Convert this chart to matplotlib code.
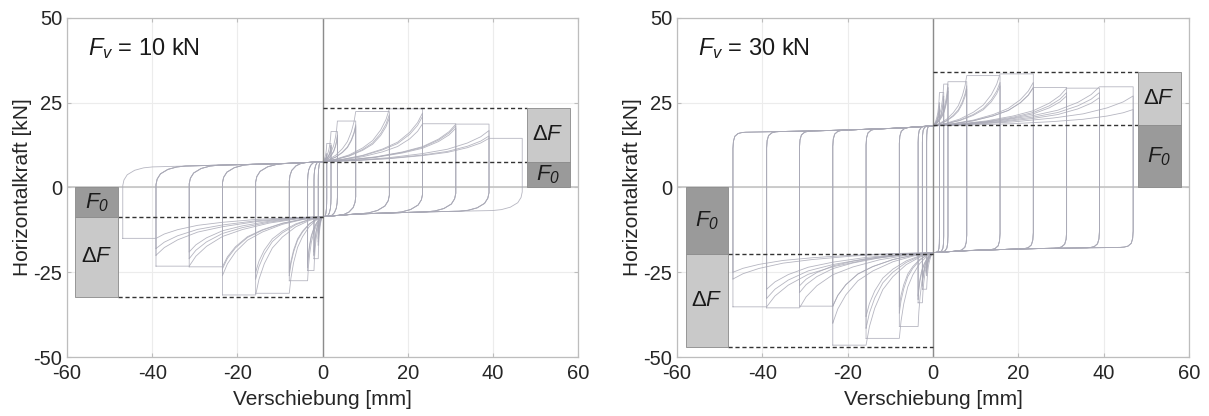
import numpy as np
import matplotlib
matplotlib.use("Agg")
import matplotlib.pyplot as plt
from matplotlib.patches import Rectangle

plt.rcParams['font.family'] = ['Liberation Sans', 'DejaVu Sans']
plt.rcParams['mathtext.fontset'] = 'custom'
plt.rcParams['mathtext.rm'] = 'Liberation Sans'
plt.rcParams['mathtext.it'] = 'Liberation Sans:italic'
plt.rcParams['mathtext.sf'] = 'Liberation Sans:italic'
plt.rcParams['mathtext.default'] = 'it'
plt.rcParams['axes.unicode_minus'] = False

# ---- data ----
# cycle amplitudes [mm]
amps_10 = [1.0, 2.0, 3.5, 7.8, 15.7, 23.5, 31.3, 39.1, 46.9]
amps_30 = [1.5, 2.5, 3.5, 7.9, 15.7, 23.5, 31.3, 39.0, 46.9]

# peak forces per cycle [kN] (first, second, third cycle)
peak_pos_10 = [[10, 9.5, 9], [13, 12.5, 12], [16.5, 15.5, 15], [19.6, 18.5, 18],
               [22.4, 21.5, 20.5], [23.2, 22, 21], [18.8, 18.2, 17.5],
               [18.7, 16.8, 15.2], [14.5]]
peak_neg_10 = [[-17, -16, -15], [-21, -20, -19], [-24.5, -23.5, -22.5], [-27.5, -26, -25],
               [-31.2, -27, -25], [-31.7, -26, -24], [-23.4, -21, -19],
               [-23.2, -20, -18], [-15]]
peak_pos_30 = [[25, 24, 23], [28, 27, 26], [30.5, 29.5, 28.5], [31.2, 30, 29],
               [33, 31, 30], [33.5, 31, 29.5], [29.5, 28, 27],
               [29.3, 28, 26.5], [29.7, 27, 23]]
peak_neg_30 = [[-26, -25, -24], [-30, -29, -28], [-34, -33, -32], [-41, -37, -35],
               [-44.5, -41.5, -38], [-46.5, -40, -35], [-35, -31, -29],
               [-35.5, -32.7, -30], [-35.2, -27, -25]]

# sliding plateau levels (upper branch for x<0, lower branch for x>0)
up_x = [-48, -24, -8, 0]
up_10 = [5.8, 6.6, 7.1, 7.6]
up_30 = [16.2, 16.8, 17.5, 18.2]
lo_x = [0, 8, 24, 48]
lo_10 = [-8.6, -7.8, -7.2, -6.6]
lo_30 = [-19.2, -18.6, -18.0, -17.6]

# F0 / Fmax levels marked by the boxes
f0_pos = [7.5, 18.3]
fmax_pos = [23.5, 34.0]
f0_neg = [-8.7, -19.6]
fmin_neg = [-32.2, -47.1]
panel_labels = ['10 kN', '30 kN']

# normalised branch shapes
HARD_T = [0, 0.2, 0.4, 0.6, 0.75, 0.87, 0.95, 1.0]
HARD_R = [0, 0.05, 0.13, 0.26, 0.4, 0.6, 0.8, 1.0]
CORNER_T = [0, 0.04, 0.15, 0.4, 0.7, 1.0]
CORNER_R_SOFT = [0, 0.3, 0.58, 0.82, 0.95, 1.0]
CORNER_R_SHARP = [0, 0.45, 0.75, 0.92, 0.98, 1.0]


def make_loop(A, P, N, xp_flat, xn_flat, up_y, lo_y, drop, cw, corner_r):
    w = min(cw, 0.5 * A)
    xs, ys = [-A], [N]
    # reverse at -A, round corner onto upper plateau
    y_pl = np.interp(-A + w, up_x, up_y)
    y0 = y_pl - drop
    for t, r in zip(CORNER_T, corner_r):
        xs.append(-A + t * w)
        ys.append(y0 + r * (y_pl - y0))
    for xx in np.linspace(-A + w, 0, 6)[1:]:
        xs.append(xx)
        ys.append(np.interp(xx, up_x, up_y))
    F0 = ys[-1]
    X = xp_flat if xp_flat else A
    for t, r in zip(HARD_T[1:], HARD_R[1:]):
        xs.append(t * X)
        ys.append(F0 + r * (P - F0))
    if xp_flat:
        xs.append(A)
        ys.append(P)
    # reverse at +A, round corner onto lower plateau
    y_pl = np.interp(A - w, lo_x, lo_y)
    y0 = y_pl + drop
    for t, r in zip(CORNER_T, corner_r):
        xs.append(A - t * w)
        ys.append(y0 + r * (y_pl - y0))
    for xx in np.linspace(A - w, 0, 6)[1:]:
        xs.append(xx)
        ys.append(np.interp(xx, lo_x, lo_y))
    F0 = ys[-1]
    X = xn_flat if xn_flat else A
    for t, r in zip(HARD_T[1:], HARD_R[1:]):
        xs.append(-t * X)
        ys.append(F0 + r * (N - F0))
    if xn_flat:
        xs.append(-A)
        ys.append(N)
    return xs, ys


fig = plt.figure(figsize=(12.09, 4.16), dpi=100)
ax1 = fig.add_axes([0.0554, 0.1418, 0.4227, 0.815])
ax2 = fig.add_axes([0.560, 0.1418, 0.4235, 0.815])

panels = [
    (ax1, amps_10, peak_pos_10, peak_neg_10, up_10, lo_10, 5.5, 7.0, CORNER_R_SOFT),
    (ax2, amps_30, peak_pos_30, peak_neg_30, up_30, lo_30, 4.8, 3.0, CORNER_R_SHARP),
]

for i, (ax, amps, pp, pn, upy, loy, drop, cw, cr) in enumerate(panels):
    ax.set_xlim(-60, 60)
    ax.set_ylim(-50, 50)
    ax.set_xticks([-60, -40, -20, 0, 20, 40, 60])
    ax.set_yticks([-50, -25, 0, 25, 50])
    ax.grid(True, color='#ececec', lw=0.8)
    ax.set_axisbelow(True)
    ax.axhline(0, color='#c4c4c4', lw=1.2, zorder=1.6)
    ax.axvline(0, color='#8c8c8c', lw=1.0, zorder=2.5)
    for s in ax.spines.values():
        s.set_color('#bdbdbd')
        s.set_linewidth(0.9)
    ax.tick_params(direction='in', length=3, color='#bdbdbd', labelsize=14.5,
                   labelcolor='#262626', top=True, right=True)
    ax.tick_params(axis='x', pad=5)

    for k, A in enumerate(amps):
        prev = amps[k - 1] if k > 0 else None
        for c in range(len(pp[k])):
            flat = prev if c == 0 else None
            xs, ys = make_loop(A, pp[k][c], pn[k][c], flat, flat, upy, loy, drop, cw, cr)
            ax.plot(xs, ys, color='#a9a9b6', lw=0.6, alpha=0.85, zorder=2)

    # dashed reference lines
    dash = dict(color='#333333', lw=1.0, ls=(0, (3, 2)), zorder=3)
    ax.plot([0, 48], [fmax_pos[i]] * 2, **dash)
    ax.plot([0, 48], [f0_pos[i]] * 2, **dash)
    ax.plot([-48, 0], [f0_neg[i]] * 2, **dash)
    ax.plot([-48, 0], [fmin_neg[i]] * 2, **dash)

    # F0 / dF boxes
    ax.add_patch(Rectangle((48, 0), 10, f0_pos[i], fc='#9a9a9a', ec='#8a8a8a', lw=0.6, zorder=4))
    ax.add_patch(Rectangle((48, f0_pos[i]), 10, fmax_pos[i] - f0_pos[i], fc='#c9c9c9',
                           ec='#8a8a8a', lw=0.6, zorder=4))
    ax.add_patch(Rectangle((-58, f0_neg[i]), 10, -f0_neg[i], fc='#9a9a9a', ec='#8a8a8a',
                           lw=0.6, zorder=4))
    ax.add_patch(Rectangle((-58, fmin_neg[i]), 10, f0_neg[i] - fmin_neg[i], fc='#c9c9c9',
                           ec='#8a8a8a', lw=0.6, zorder=4))
    tk = dict(ha='center', va='center', fontsize=16, color='#1a1a1a', zorder=5)
    ax.text(53, f0_pos[i] / 2, r'$F_{\mathsf{0}}$', **tk)
    ax.text(53, (f0_pos[i] + fmax_pos[i]) / 2, r'Δ$F$', **tk)
    ax.text(-53, f0_neg[i] / 2, r'$F_{\mathsf{0}}$', **tk)
    ax.text(-53, (f0_neg[i] + fmin_neg[i]) / 2, r'Δ$F$', **tk)

    ax.text(-55, 41, r'$F_v$ = ' + panel_labels[i], fontsize=17, color='#1a1a1a',
            va='center', ha='left')
    ax.set_xlabel('Verschiebung [mm]', fontsize=15, color='#262626', labelpad=5)
    ax.set_ylabel('Horizontalkraft [kN]', fontsize=15, color='#262626', labelpad=1)

fig.savefig('out.png', dpi=100)
